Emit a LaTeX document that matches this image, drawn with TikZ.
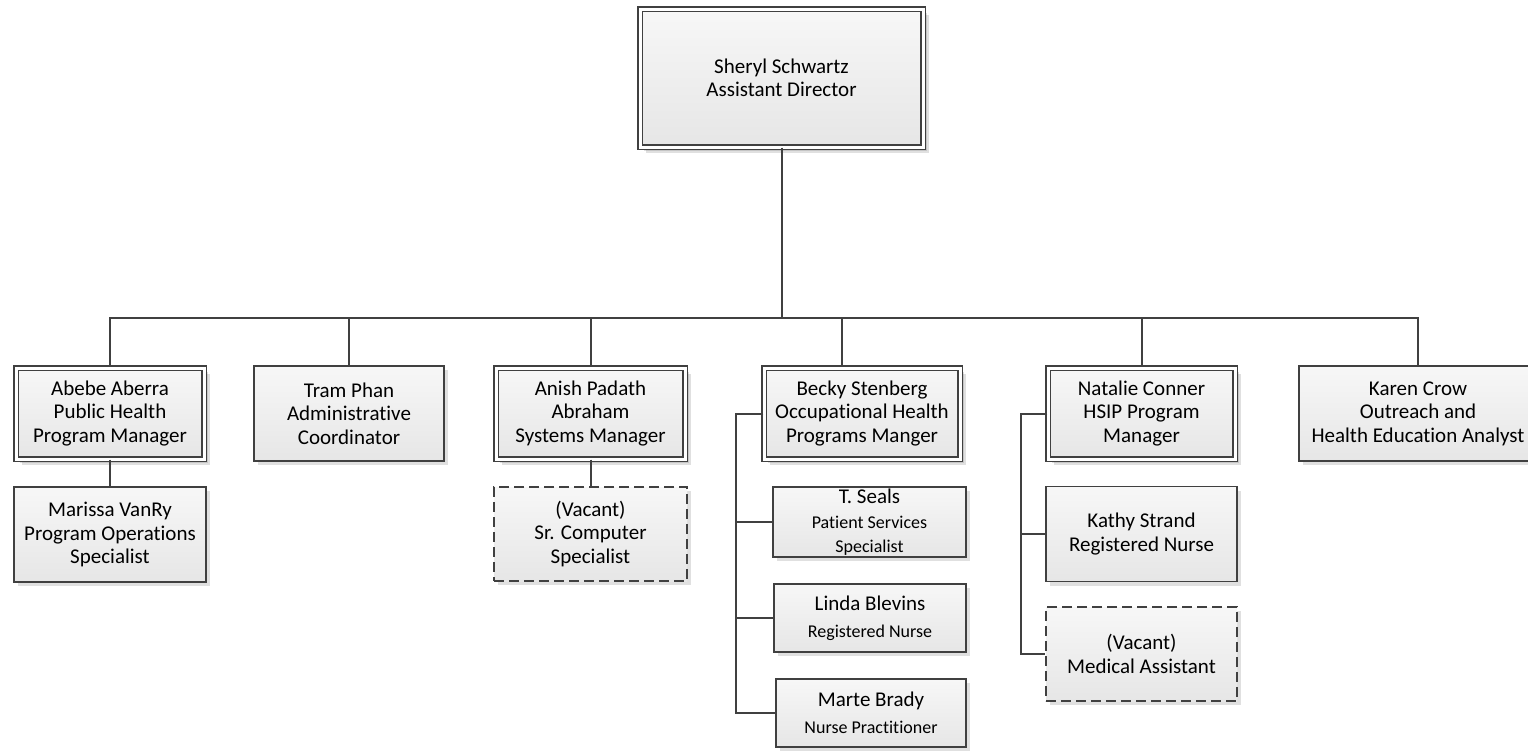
\documentclass[tikz,border=0pt]{standalone}
\usepackage{fontspec}
\setmainfont{Carlito}[Ligatures=NoCommon]
\usetikzlibrary{shadows}
\definecolor{boxline}{HTML}{404040}
\definecolor{boxtop}{HTML}{F7F7F7}
\definecolor{boxbot}{HTML}{E6E6E6}
\newcommand{\subfont}{\fontsize{18}{20}\selectfont}
\tikzset{
  box/.style={rectangle,draw=boxline,line width=1.8pt,top color=boxtop,bottom color=boxbot,
    align=center,inner sep=2pt,font=\fontsize{21}{23.5}\selectfont,
    drop shadow={shadow xshift=4pt,shadow yshift=-4pt,opacity=0.12,fill=black}},
  mgr/.style={box,line width=1.4pt,double=white,double distance=3pt,minimum height=91pt,
    drop shadow={shadow xshift=6pt,shadow yshift=-6pt,opacity=0.12,fill=black}},
  vacant/.style={box,dashed,dash pattern=on 10pt off 5pt},
  link/.style={draw=boxline,line width=2pt}
}
\begin{document}
\begin{tikzpicture}[x=1pt,y=-1pt]
\useasboundingbox (0,0) rectangle (1528,750);
\node[mgr,minimum width=283pt,minimum height=138pt] (sheryl) at (781.5,78) {Sheryl Schwartz\\Assistant Director};
\foreach \x/\w/\n/\t in {110/188/abebe/{Abebe Aberra\\Public Health\\Program Manager}, 590.5/189/anish/{Anish Padath\\Abraham\\Systems Manager}, 862/196/becky/{Becky Stenberg\\Occupational Health\\Programs Manger}, 1141.5/187/natalie/{Natalie Conner\\HSIP Program\\Manager}}
  \node[mgr,minimum width=\w pt] (\n) at (\x,413.5) {\t};
\foreach \x/\y/\w/\n/\t in {349/413.5/190/tram/{Tram Phan\\Administrative\\Coordinator}, 1418/413.5/238/karen/{Karen Crow\\Outreach and\\Health Education Analyst}, 110/534.5/192/marissa/{Marissa VanRy\\Program Operations\\Specialist}, 1141.5/534/191/kathy/{Kathy Strand\\Registered Nurse}}
  \node[box,minimum width=\w pt,minimum height=95pt] (\n) at (\x,\y) {\t};
\foreach \x/\y/\w/\n/\t in {590.5/534/193/vacant1/{(Vacant)\\Sr. Computer\\Specialist}, 1141.5/654/191/vacant2/{(Vacant)\\Medical Assistant}}
  \node[vacant,minimum width=\w pt,minimum height=94pt] (\n) at (\x,\y) {\t};
\foreach \x/\y/\w/\n/\t in {869.5/522/193/tseals/{T. Seals\\[2pt]\subfont Patient Services\\\subfont Specialist}, 870/618/192/linda/{Linda Blevins\\[3pt]\subfont Registered Nurse}, 871/713/190/marte/{Marte Brady\\[3pt]\subfont Nurse Practitioner}}
  \node[box,minimum width=\w pt,minimum height=68pt] (\n) at (\x,\y) {\t};

% top level
\coordinate (bus) at (781.5,318);
\draw[link] (sheryl.south) -- (bus);
\foreach \n in {abebe, tram, anish, natalie, karen}
  \draw[link] (bus) -| (\n.north);
\draw[link] (bus) -| ([xshift=-20pt]becky.north);

% single reports
\foreach \s/\t in {abebe/marissa, anish/vacant1}
  \draw[link] (\s.south) -- (\t.north);

% spines
\coordinate (bspine) at ([xshift=-27pt]becky.west);
\draw[link] (becky.west) -- (bspine) |- (marte.west);
\foreach \n in {tseals, linda}
  \draw[link] (bspine) |- (\n.west);
\coordinate (nspine) at ([xshift=-26pt]natalie.west);
\draw[link] (natalie.west) -- (nspine) |- (vacant2.west);
\draw[link] (nspine) |- (kathy.west);
\end{tikzpicture}
\end{document}
